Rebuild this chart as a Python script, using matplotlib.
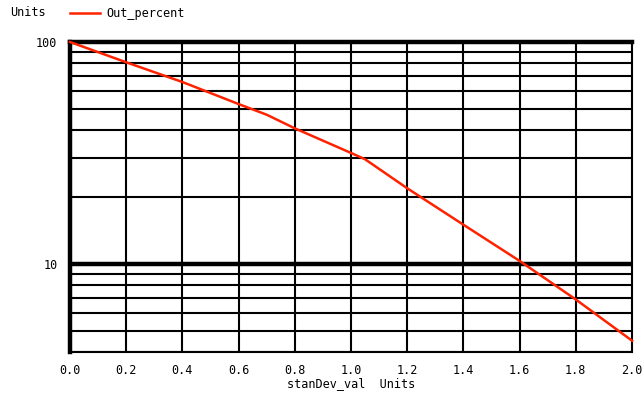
import numpy as np
import matplotlib.pyplot as plt
from matplotlib.ticker import FixedLocator, NullFormatter

# values
stan_dev = [0.0, 0.2, 0.4, 0.6, 0.7, 0.8, 1.0, 1.05, 1.2, 1.4, 1.6, 1.8, 2.0]
out_percent = [100.0, 81.0, 66.0, 52.5, 47.0, 40.8, 31.6, 29.6, 21.9, 15.0, 10.3, 6.9, 4.5]
x_ticks = [0.0, 0.2, 0.4, 0.6, 0.8, 1.0, 1.2, 1.4, 1.6, 1.8, 2.0]
x_labels = ['%.1f' % v for v in x_ticks]
minor_y = [4, 5, 6, 7, 8, 9, 20, 30, 40, 50, 60, 70, 80, 90]

mono = 'DejaVu Sans Mono'
fs = 8.5

fig = plt.figure(figsize=(6.44, 3.97), dpi=100)
ax = fig.add_axes([70 / 644, 1 - 352 / 397, 562 / 644, 310 / 397])

ax.set_yscale('log')
ax.set_xlim(0, 2.0)
ax.set_ylim(4, 100)

# grid
for v in x_ticks[1:-1]:
    ax.axvline(v, color='black', lw=1.5, zorder=1)
for v in minor_y:
    ax.axhline(v, color='black', lw=1.5, zorder=1)
ax.axhline(10, color='black', lw=3.2, zorder=1)

ax.plot(stan_dev, out_percent, color='#ff2200', lw=1.8, zorder=3, clip_on=False)

ax.spines['left'].set_linewidth(3.2)
ax.spines['top'].set_linewidth(3.2)
ax.spines['right'].set_linewidth(1.5)
ax.spines['bottom'].set_linewidth(1.5)

ax.xaxis.set_major_locator(FixedLocator(x_ticks))
ax.set_xticklabels(x_labels, fontfamily=mono, fontsize=fs)
ax.yaxis.set_major_locator(FixedLocator([10, 100]))
ax.yaxis.set_minor_locator(FixedLocator(minor_y))
ax.yaxis.set_minor_formatter(NullFormatter())
ax.set_yticklabels(['10', '100'], fontfamily=mono, fontsize=fs)
ax.tick_params(which='both', length=0, pad=9)
ax.tick_params(axis='y', pad=9)

ax.set_xlabel('stanDev_val  Units', fontfamily=mono, fontsize=fs, labelpad=0)

# legend row at the top
fig.text(10 / 644, 1 - 13 / 397, 'Units', fontfamily=mono, fontsize=fs, va='center')
fig.add_artist(plt.Line2D([70 / 644, 100 / 644], [1 - 13 / 397] * 2, color='#ff2200', lw=1.8))
fig.text(106 / 644, 1 - 13 / 397, 'Out_percent', fontfamily=mono, fontsize=fs, va='center')

fig.savefig('out.png', dpi=100)
